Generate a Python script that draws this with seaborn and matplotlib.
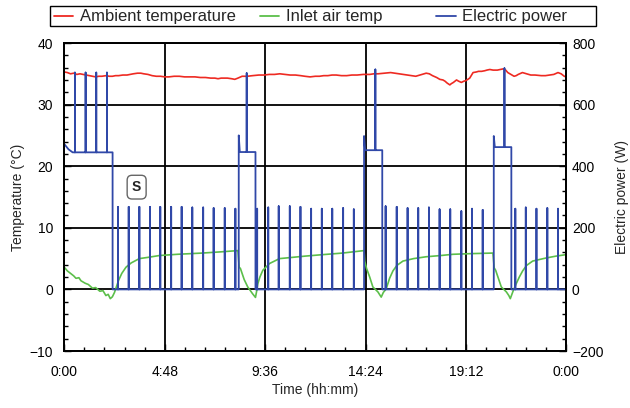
import matplotlib
matplotlib.use("Agg")
import matplotlib.pyplot as plt
from matplotlib.ticker import MultipleLocator, FixedLocator
from matplotlib.lines import Line2D
from matplotlib.patches import Rectangle
import seaborn as sns

# Ambient temperature (hours, degC)
amb_t = [0.0, 0.15, 0.3, 0.45, 0.6, 0.75, 0.9, 1.05, 1.2, 1.35,
         1.5, 1.65, 1.8, 2.0, 2.15, 2.3, 2.45, 2.6, 2.8, 3.0,
         3.15, 3.3, 3.5, 3.66, 3.8, 4.0, 4.2, 4.4, 4.6, 4.8,
         5.0, 5.25, 5.5, 5.75, 6.0, 6.25, 6.5, 6.75, 7.0, 7.2,
         7.35, 7.5, 7.8, 8.0, 8.15, 8.3, 8.5, 8.75, 9.0, 9.3,
         9.55, 9.8, 10.05, 10.3, 10.55, 10.8, 11.05, 11.3, 11.5, 11.75,
         12.0, 12.2, 12.4, 12.6, 12.8, 13.0, 13.25, 13.5, 13.75, 14.0,
         14.3, 14.6, 14.8, 15.0, 15.3, 15.6, 15.8, 16.0, 16.2, 16.4,
         16.6, 16.8, 17.0, 17.3, 17.45, 17.6, 17.8, 17.95, 18.1, 18.2,
         18.3, 18.43, 18.5, 18.6, 18.75, 18.85, 18.98, 19.1, 19.2, 19.38,
         19.54, 19.7, 19.8, 19.95, 20.1, 20.2, 20.34, 20.5, 20.7, 20.85,
         20.98, 21.1, 21.2, 21.35, 21.5, 21.6, 21.7, 21.9, 22.1, 22.3,
         22.5, 22.8, 23.0, 23.2, 23.4, 23.6, 23.75, 23.9, 24.0]
amb_v = [35.3, 35.2, 35.0, 35.1, 34.9, 35.0, 34.9, 34.8, 34.7, 34.6,
         34.5, 34.6, 34.6, 34.7, 34.6, 34.6, 34.7, 34.7, 34.8, 34.8,
         34.9, 35.0, 35.1, 35.1, 35.0, 34.9, 34.7, 34.6, 34.6, 34.5,
         34.5, 34.6, 34.6, 34.5, 34.5, 34.5, 34.4, 34.4, 34.3, 34.3,
         34.2, 34.3, 34.3, 34.2, 34.1, 34.3, 34.6, 34.6, 34.7, 34.8,
         34.8, 34.9, 34.9, 35.0, 34.9, 34.8, 34.8, 34.7, 34.6, 34.5,
         34.6, 34.6, 34.7, 34.7, 34.8, 34.8, 34.7, 34.7, 34.8, 34.8,
         34.9, 34.9, 35.0, 35.0, 35.1, 35.2, 35.1, 35.0, 34.9, 34.8,
         34.7, 34.6, 34.8, 35.1, 35.0, 34.7, 34.4, 34.1, 34.0, 33.8,
         33.5, 33.2, 33.4, 33.6, 34.0, 33.8, 33.6, 33.8, 33.9, 34.3,
         35.2, 35.3, 35.4, 35.4, 35.5, 35.6, 35.7, 35.6, 35.6, 35.7,
         35.8, 35.6, 35.2, 34.9, 34.6, 34.7, 34.9, 35.2, 35.0, 34.8,
         34.8, 34.7, 34.7, 34.8, 34.9, 35.2, 35.0, 34.6, 34.5]

# Inlet air temperature (hours, degC)
inlet_t = [0.0, 0.15, 0.3, 0.45, 0.56, 0.7, 0.8, 1.0, 1.15, 1.35,
           1.5, 1.7, 1.85, 1.99, 2.1, 2.2, 2.3, 2.4, 2.47, 2.6,
           2.75, 2.95, 3.2, 3.59, 4.0, 4.55, 5.41, 6.6, 7.5, 8.3,
           8.36, 8.42, 8.6, 8.77, 9.0, 9.14, 9.2, 9.25, 9.35, 9.49,
           9.81, 10.29, 10.6, 11.5, 12.2, 13.3, 14.33, 14.36, 14.45, 14.6,
           14.75, 14.99, 15.15, 15.25, 15.39, 15.55, 15.71, 15.9, 16.19, 16.7,
           17.3, 18.0, 18.58, 19.38, 20.49, 20.55, 20.62, 20.75, 20.89, 21.13,
           21.25, 21.32, 21.45, 21.6, 21.75, 21.91, 22.1, 22.39, 23.03, 23.5,
           23.9, 24.0]
inlet_v = [3.6, 3.0, 2.6, 2.2, 1.8, 1.9, 1.4, 1.0, 0.8, 0.2,
           0.3, -0.3, -0.2, -1.0, -0.8, -1.5, -1.2, -0.5, 0.2, 1.5,
           2.6, 3.6, 4.3, 5.0, 5.2, 5.5, 5.7, 5.9, 6.1, 6.3,
           3.6, 3.4, 1.6, 0.4, -0.7, -1.3, -0.2, 0.9, 2.0, 3.1,
           4.2, 5.0, 5.1, 5.4, 5.6, 5.9, 6.3, 4.6, 3.4, 2.0,
           0.4, -0.4, -1.25, -0.5, 0.1, 1.8, 3.0, 3.9, 4.6, 5.0,
           5.3, 5.5, 5.7, 5.8, 5.9, 3.5, 3.1, 1.8, 0.4, -0.4,
           -1.0, -1.5, -0.3, 0.9, 2.0, 3.0, 3.9, 4.6, 5.1, 5.4,
           5.6, 5.7]

# Electric power: heating periods (hours, W)
on_start = [0.0, 8.34, 14.33, 20.53]
on_end = [2.31, 9.14, 15.20, 21.37]
on_peak = [472, 500, 498, 498]
on_level = [445, 446, 452, 462]
big_t = [0.51, 1.02, 1.53, 2.04, 8.72, 14.87, 21.04]
big_w = [704, 704, 704, 704, 702, 714, 718]
# short compressor spikes during the off periods
spike_t = [2.57, 3.08, 3.59, 4.10, 4.59, 5.11, 5.61, 6.12, 6.64, 7.14, 7.67, 8.18,
           9.22, 9.75, 10.25, 10.78, 11.29, 11.80, 12.31, 12.81, 13.33, 13.84,
           15.36, 15.89, 16.41, 16.92, 17.43, 17.94, 18.45, 18.98, 19.49, 20.0,
           21.56, 22.06, 22.57, 23.09, 23.60]
spike_w = [268, 268, 268, 268, 268, 268, 268, 266, 266, 264, 264, 262,
           262, 266, 270, 270, 268, 262, 262, 262, 264, 260,
           270, 268, 264, 264, 266, 260, 260, 254, 262, 258,
           262, 266, 262, 264, 262]

xticks = [0, 4.8, 9.6, 14.4, 19.2, 24]
xlabels = ["0:00", "4:48", "9:36", "14:24", "19:12", "0:00"]
series_names = ["Ambient temperature", "Inlet air temp", "Electric power"]

# build the power polyline
pw_t, pw_v = [], []
events = []
for i in range(len(on_start)):
    events.append((on_start[i], "on", i))
for t, w in zip(spike_t, spike_w):
    events.append((t, "spike", w))
events.sort()
for t, kind, val in events:
    if kind == "spike":
        pw_t += [t, t, t]
        pw_v += [0, val, 0]
    else:
        i = val
        s, e = on_start[i], on_end[i]
        if i == 0:
            pw_t += [s, 0.2, 0.4]
            pw_v += [on_peak[i], 455, on_level[i]]
        else:
            pw_t += [s, s, s + 0.05]
            pw_v += [0, on_peak[i], on_level[i]]
        for bt, bw in zip(big_t, big_w):
            if s < bt < e:
                pw_t += [bt, bt, bt]
                pw_v += [on_level[i], bw, on_level[i]]
        pw_t += [e, e]
        pw_v += [on_level[i], 0]
pw_t.append(24.0)
pw_v.append(0)

sns.set_style("ticks")
plt.rcParams["font.family"] = ["Liberation Sans", "DejaVu Sans"]

red = "#ee2a22"
green = "#5cbf4a"
blue = "#3048a8"
colors = [red, green, blue]

W, H = 630, 408
fig = plt.figure(figsize=(6.3, 4.08), dpi=100)
ax = fig.add_axes([0.102, 0.1397, 0.797, 0.7549])
ax2 = ax.twinx()

sns.lineplot(x=amb_t, y=amb_v, ax=ax, color=red, lw=1.2, estimator=None, sort=False)
sns.lineplot(x=inlet_t, y=inlet_v, ax=ax, color=green, lw=1.2, estimator=None, sort=False)
sns.lineplot(x=pw_t, y=pw_v, ax=ax2, color=blue, lw=1.3, estimator=None, sort=False)

ax.set_xlim(0, 24)
ax.set_ylim(-10, 40)
ax2.set_ylim(-200, 800)
ax.xaxis.set_major_locator(FixedLocator(xticks))
ax.set_xticklabels(xlabels)
ax.xaxis.set_minor_locator(MultipleLocator(0.96))
ax.yaxis.set_major_locator(MultipleLocator(10))
ax.yaxis.set_minor_locator(MultipleLocator(2))
ax2.yaxis.set_major_locator(MultipleLocator(200))
ax2.yaxis.set_minor_locator(MultipleLocator(40))

ax.grid(True, which="major", color="black", lw=1.3)
for a in (ax, ax2):
    a.tick_params(which="both", direction="in", labelsize=10, colors="black")
    a.tick_params(which="major", length=5, width=1)
    a.tick_params(which="minor", length=3, width=1)
    for sp in a.spines.values():
        sp.set_visible(True)
        sp.set_color("black")
        sp.set_linewidth(1.3)
ax.tick_params(axis="x", pad=10)
ax.tick_params(axis="y", pad=8)
ax2.tick_params(axis="y", pad=4)

ax.set_xlabel("Time (hh:mm)", fontsize=10, labelpad=3)
ax.set_ylabel("Temperature (\u00b0C)", fontsize=10, labelpad=3)
ax2.set_ylabel("Electric power (W)", fontsize=10, labelpad=8)

ax.text(3.46, 16.6, "S", fontsize=10, fontweight="bold", ha="center", va="center",
        bbox=dict(boxstyle="round,pad=0.35", fc="white", ec="#666666", lw=1))

# legend box above the axes, laid out like the original
fig.add_artist(Rectangle((50 / W, 1 - 26 / H), 546 / W, 20 / H, transform=fig.transFigure,
                         fill=False, ec="black", lw=1))
handle_x = [(54, 73), (260, 279), (436, 456)]
text_x = [80, 286, 462]
for (x0, x1), tx, name, c in zip(handle_x, text_x, series_names, colors):
    fig.add_artist(Line2D([x0 / W, x1 / W], [1 - 16 / H] * 2, transform=fig.transFigure,
                          color=c, lw=1.3))
    fig.text(tx / W, 1 - 16 / H, name, fontsize=12, ha="left", va="center")

fig.savefig("out.png", dpi=100)
